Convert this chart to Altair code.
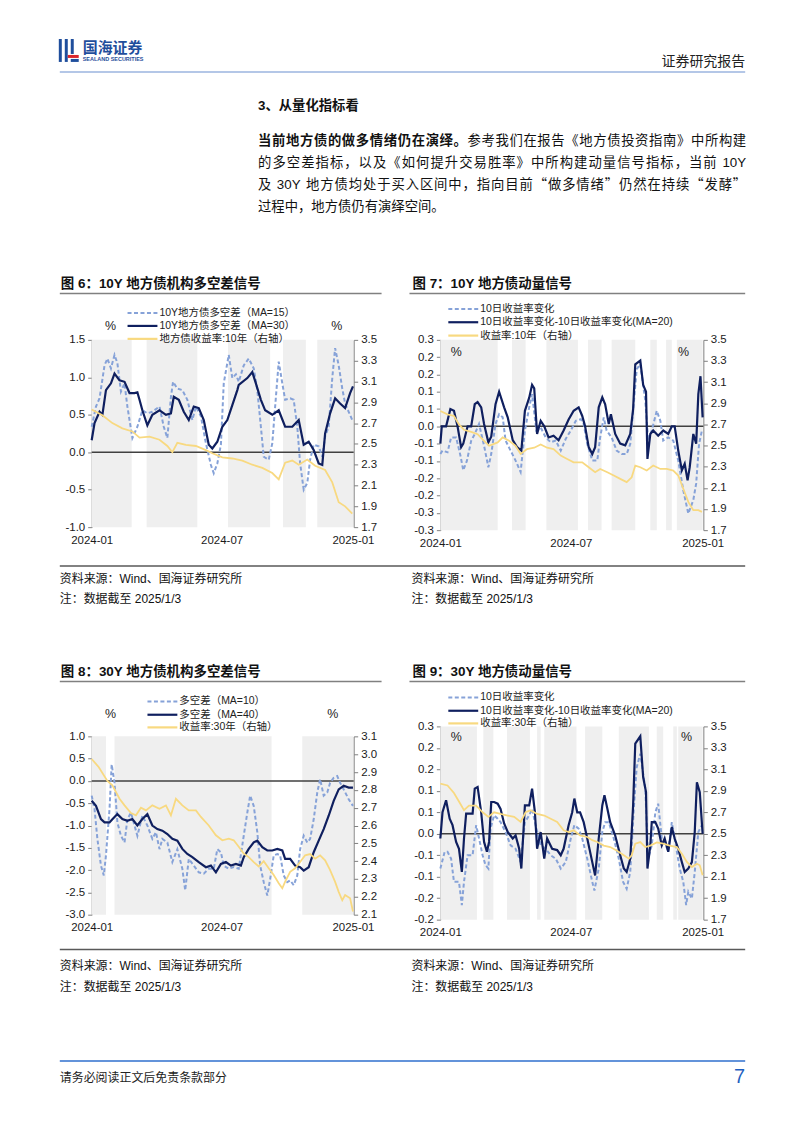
import altair as alt
import pandas as pd

FONT = "Liberation Sans, Noto Sans CJK SC, sans-serif"
CJK_FONT = "Noto Sans CJK SC, sans-serif"
BASE = pd.Timestamp("2024-01-01")

LIGHT = "#86a2d8"
NAVY = "#0f1f5f"
YELLOW = "#f8d980"
BAND = "#efefef"
ZERO = "#404040"
AXIS = "#808080"
LOGO_BLUE = "#1f4e9c"

# ---------------- data (day offset from 2024-01-01, value) ----------------
X_TICKS = ["2024-01-01", "2024-07-01", "2025-01-01"]
RIGHT_TICKS_35 = [1.7, 1.9, 2.1, 2.3, 2.5, 2.7, 2.9, 3.1, 3.3, 3.5]

# Figure 6: 10Y 地方债机构多空差信号
F6_LABELS = ["10Y地方债多空差（MA=15）", "10Y地方债多空差（MA=30）", "地方债收益率:10年（右轴）"]
F6_BANDS = [(0, 56), (77, 148), (191, 250), (268, 300), (316, 366)]
F6_MA15 = [(0, 0.34), (6, 0.61), (11, 0.72), (18, 1.16), (22, 1.25), (27, 1.12), (32, 1.30), (36, 1.19),
           (41, 0.81), (46, 0.92), (50, 0.61), (57, 0.19), (64, 0.34), (71, 0.56), (78, 0.52), (85, 0.54),
           (95, 0.61), (101, 0.34), (106, 0.19), (111, 0.74), (114, 0.94), (120, 0.85), (127, 0.83),
           (134, 0.70), (141, 0.43), (146, 0.61), (153, 0.48), (160, 0.12), (167, -0.17), (171, -0.28),
           (176, -0.15), (181, 0.10), (185, 0.92), (192, 1.30), (197, 0.99), (202, 1.04), (206, 0.94),
           (213, 1.16), (220, 1.25), (227, 1.12), (232, 0.83), (237, 0.34), (241, -0.06), (248, -0.10),
           (253, 0.12), (257, 0.61), (262, 1.21), (267, 0.92), (271, 0.70), (278, 0.72), (283, 0.70),
           (288, 0.34), (292, -0.15), (297, -0.50), (302, -0.41), (306, -0.10), (311, 0.10), (318, 0.08),
           (323, -0.06), (327, 0.21), (332, 0.34), (337, 0.99), (341, 1.39), (346, 1.16), (351, 0.85),
           (355, 0.65), (360, 0.54), (365, 0.43)]
F6_MA30 = [(0, 0.16), (4, 0.39), (11, 0.54), (15, 0.50), (20, 0.83), (27, 0.92), (32, 1.05), (39, 0.96),
           (46, 0.94), (53, 0.79), (60, 0.79), (64, 0.80), (67, 0.70), (71, 0.56), (78, 0.36), (85, 0.50),
           (95, 0.56), (104, 0.50), (111, 0.52), (115, 0.74), (122, 0.70), (129, 0.54), (136, 0.43),
           (143, 0.61), (150, 0.59), (157, 0.43), (164, 0.10), (169, 0.05), (176, 0.14), (183, 0.34),
           (190, 0.43), (197, 0.63), (204, 0.83), (206, 0.90), (218, 0.99), (225, 1.07), (230, 0.92),
           (237, 0.70), (243, 0.56), (253, 0.50), (262, 0.56), (271, 0.34), (281, 0.34), (290, 0.43),
           (297, 0.10), (304, 0.14), (311, 0.03), (318, -0.15), (323, -0.17), (327, 0.25), (334, 0.52),
           (341, 0.72), (348, 0.65), (355, 0.59), (362, 0.79), (366, 0.88)]
F6_YIELD = [(0, 2.83), (15, 2.775), (29, 2.70), (43, 2.65), (57, 2.62), (67, 2.56), (81, 2.57), (95, 2.54),
            (106, 2.48), (113, 2.42), (120, 2.51), (132, 2.49), (146, 2.48), (160, 2.44), (169, 2.41),
            (183, 2.37), (197, 2.36), (211, 2.34), (225, 2.30), (239, 2.27), (253, 2.22), (262, 2.16),
            (271, 2.32), (281, 2.34), (290, 2.30), (302, 2.35), (313, 2.29), (327, 2.25), (337, 2.13),
            (346, 1.94), (355, 1.90), (365, 1.83)]
F6_LEFT_TICKS = [-1.0, -0.5, 0.0, 0.5, 1.0, 1.5]

# Figure 7: 10Y 地方债动量信号
F7_LABELS = ["10日收益率变化", "10日收益率变化-10日收益率变化(MA=20)", "收益率:10年（右轴）"]
F7_BANDS = [(0, 80), (100, 119), (148, 192), (206, 225), (239, 272), (293, 302), (315, 323), (330, 366)]
F7_CHG = [(0, -0.08), (3, -0.07), (10, -0.075), (15, -0.032), (22, -0.032), (28, -0.084), (32, -0.127),
          (37, -0.10), (43, -0.042), (48, -0.022), (54, 0.007), (61, -0.056), (67, -0.118), (71, -0.08),
          (77, 0.007), (82, 0.035), (87, 0.026), (91, -0.041), (98, -0.07), (105, -0.099), (112, -0.132),
          (118, -0.012), (124, 0.055), (128, 0.093), (134, -0.012), (140, -0.003), (147, -0.032),
          (154, -0.046), (161, -0.041), (168, -0.07), (175, -0.036), (182, -0.012), (189, 0.016),
          (196, 0.021), (200, 0.007), (205, -0.051), (212, -0.099), (219, -0.099), (223, -0.032),
          (228, 0.026), (232, -0.012), (239, -0.032), (246, -0.07), (253, -0.08), (260, -0.08),
          (265, -0.051), (270, 0.069), (274, 0.165), (279, 0.18), (286, 0.074), (290, -0.041),
          (295, -0.012), (302, 0.045), (307, 0.016), (311, -0.041), (318, -0.032), (325, -0.041),
          (332, -0.099), (339, -0.185), (346, -0.252), (353, -0.213), (357, -0.165), (361, -0.051),
          (365, -0.012)]
F7_DIFF = [(0, -0.05), (2, 0.0), (8, 0.0), (14, 0.05), (19, 0.045), (24, 0.0), (29, -0.06), (32, -0.05),
           (38, 0.0), (43, 0.0), (48, 0.064), (52, 0.07), (57, 0.055), (61, 0.007), (67, -0.046),
           (71, -0.03), (77, 0.064), (82, 0.10), (89, 0.055), (94, 0.026), (101, -0.04), (107, -0.06),
           (113, -0.07), (118, 0.045), (124, 0.083), (128, 0.12), (131, 0.11), (135, -0.022), (140, 0.016),
           (145, 0.0), (151, -0.032), (158, -0.027), (165, -0.04), (172, -0.012), (179, 0.02), (186, 0.045),
           (193, 0.055), (198, 0.03), (202, 0.0), (207, -0.06), (212, -0.08), (216, -0.06), (221, 0.055),
           (226, 0.084), (230, 0.064), (235, 0.007), (238, 0.035), (244, -0.022), (251, -0.05),
           (258, -0.055), (265, -0.022), (269, 0.05), (272, 0.179), (279, 0.19), (283, 0.12), (287, 0.10),
           (289, -0.094), (293, -0.022), (297, -0.012), (304, -0.027), (311, -0.012), (318, -0.022),
           (323, 0.0), (327, 0.0), (332, -0.07), (337, -0.127), (341, -0.108), (345, -0.156),
           (348, -0.118), (353, -0.022), (357, -0.05), (360, 0.093), (363, 0.145), (366, 0.026)]
F7_YIELD = [(0, 2.827), (10, 2.796), (19, 2.78), (26, 2.70), (33, 2.649), (43, 2.63), (52, 2.608),
            (61, 2.545), (68, 2.498), (80, 2.53), (87, 2.577), (96, 2.545), (105, 2.498), (112, 2.42),
            (121, 2.467), (131, 2.48), (140, 2.51), (149, 2.48), (158, 2.467), (168, 2.405), (177, 2.373),
            (186, 2.342), (198, 2.342), (207, 2.295), (216, 2.248), (223, 2.279), (233, 2.248),
            (242, 2.217), (251, 2.185), (260, 2.154), (267, 2.20), (272, 2.311), (279, 2.295),
            (288, 2.264), (297, 2.311), (307, 2.279), (316, 2.279), (325, 2.264), (332, 2.217),
            (339, 2.092), (346, 1.967), (353, 1.889), (360, 1.889), (365, 1.873)]
F7_LEFT_TICKS = [-0.30, -0.25, -0.20, -0.15, -0.10, -0.05, 0.0, 0.05, 0.10, 0.15, 0.20, 0.25]

# Figure 8: 30Y 地方债机构多空差信号
F8_LABELS = ["多空差（MA=10）", "多空差（MA=40）", "收益率:30年（右轴）"]
F8_BANDS = [(0, 20), (32, 252), (295, 366)]
F8_MA10 = [(0, -0.33), (4, -0.63), (8, -1.30), (13, -1.90), (17, -2.12), (20, -1.67), (25, -0.63), (28, 0.37),
           (32, -0.04), (36, -0.93), (41, -1.23), (46, -1.38), (50, -0.86), (55, -0.71), (60, -1.0),
           (64, -1.23), (71, -0.78), (78, -1.0), (85, -1.30), (90, -1.15), (95, -1.53), (99, -1.30),
           (106, -1.38), (113, -1.82), (120, -1.53), (127, -1.97), (131, -2.455), (136, -1.75),
           (143, -1.90), (150, -2.05), (157, -2.08), (164, -1.97), (171, -1.97), (176, -1.53),
           (181, -1.60), (185, -1.90), (192, -1.97), (199, -1.93), (206, -1.97), (213, -1.23),
           (218, -0.71), (222, -0.33), (227, -0.56), (232, -1.15), (236, -1.90), (241, -2.27),
           (246, -2.57), (250, -2.20), (255, -1.67), (260, -1.64), (264, -1.67), (269, -2.12),
           (274, -2.27), (278, -2.23), (283, -2.34), (288, -2.12), (292, -1.53), (297, -1.23),
           (302, -1.38), (306, -1.30), (311, -0.86), (316, -0.26), (320, 0.04), (325, -0.33),
           (330, -0.26), (334, -0.04), (339, 0.07), (344, 0.11), (348, -0.04), (353, -0.19),
           (360, -0.41), (366, -0.56)]
F8_MA40 = [(0, -0.446), (6, -0.56), (13, -0.855), (18, -0.93), (25, -0.93), (29, -0.86), (36, -0.744),
           (43, -0.855), (50, -0.893), (57, -0.855), (64, -1.0), (71, -0.855), (78, -0.744), (85, -1.0),
           (92, -1.08), (99, -1.116), (106, -1.19), (113, -1.30), (120, -1.34), (127, -1.525),
           (134, -1.637), (141, -1.71), (150, -1.823), (160, -1.935), (167, -1.90), (174, -2.05),
           (181, -1.86), (188, -1.82), (195, -1.90), (202, -1.86), (209, -1.90), (213, -1.71),
           (220, -1.525), (227, -1.376), (232, -1.34), (239, -1.488), (246, -1.56), (253, -1.56),
           (260, -1.525), (267, -1.56), (271, -1.75), (278, -1.75), (285, -1.90), (292, -1.935),
           (297, -2.01), (304, -1.935), (311, -1.60), (318, -1.34), (325, -1.08), (332, -0.781),
           (339, -0.446), (346, -0.19), (353, -0.11), (360, -0.15), (366, -0.15)]
F8_YIELD = [(0, 2.973), (10, 2.927), (22, 2.85), (29, 2.825), (39, 2.75), (46, 2.713), (55, 2.67),
            (62, 2.657), (69, 2.70), (76, 2.685), (85, 2.713), (95, 2.694), (104, 2.713), (111, 2.657),
            (118, 2.75), (127, 2.713), (136, 2.685), (146, 2.685), (153, 2.648), (164, 2.60),
            (174, 2.545), (183, 2.517), (192, 2.526), (199, 2.517), (206, 2.481), (213, 2.443),
            (220, 2.423), (227, 2.395), (234, 2.37), (241, 2.40), (248, 2.36), (255, 2.322),
            (262, 2.276), (267, 2.248), (271, 2.285), (278, 2.34), (285, 2.36), (292, 2.395),
            (299, 2.433), (306, 2.44), (313, 2.414), (320, 2.433), (327, 2.405), (334, 2.35),
            (341, 2.284), (346, 2.228), (351, 2.181), (355, 2.21), (362, 2.192), (366, 2.118)]
F8_LEFT_TICKS = [-3.0, -2.5, -2.0, -1.5, -1.0, -0.5, 0.0, 0.5, 1.0]
F8_RIGHT_TICKS = [2.1, 2.2, 2.3, 2.4, 2.5, 2.6, 2.7, 2.8, 2.9, 3.0, 3.1]

# Figure 9: 30Y 地方债动量信号
F9_LABELS = ["10日收益率变化", "10日收益率变化-10日收益率变化(MA=20)", "收益率:30年（右轴）"]
F9_BANDS = [(0, 51), (60, 74), (93, 125), (135, 140), (145, 190), (202, 226), (249, 291), (302, 311),
            (325, 330), (332, 366)]
F9_CHG = [(0, -0.081), (6, -0.042), (10, -0.042), (15, -0.058), (19, -0.112), (26, -0.112), (30, -0.166),
          (33, -0.112), (38, -0.05), (45, -0.05), (50, 0.02), (54, -0.011), (59, -0.05), (63, -0.073),
          (67, -0.081), (70, 0.012), (75, 0.043), (80, 0.035), (84, 0.027), (91, 0.004), (98, -0.027),
          (105, -0.035), (112, -0.066), (118, 0.027), (124, 0.043), (128, 0.058), (133, 0.019),
          (140, -0.027), (147, -0.035), (154, -0.05), (161, -0.058), (168, -0.081), (175, -0.066),
          (182, -0.011), (187, 0.02), (193, 0.012), (198, -0.011), (205, -0.058), (212, -0.112),
          (215, -0.132), (221, -0.081), (226, 0.004), (230, 0.027), (235, 0.027), (242, -0.011),
          (249, -0.058), (255, -0.112), (260, -0.128), (265, -0.089), (270, 0.06), (274, 0.155),
          (279, 0.186), (286, 0.105), (290, -0.058), (295, -0.027), (300, 0.05), (304, 0.07),
          (309, -0.011), (313, -0.019), (318, -0.042), (323, 0.027), (327, -0.011), (334, -0.081),
          (339, -0.112), (343, -0.166), (346, -0.135), (351, -0.151), (355, -0.089), (360, 0.004),
          (365, 0.02)]
F9_DIFF = [(0, -0.011), (3, 0.05), (8, 0.078), (13, 0.035), (17, 0.02), (22, -0.019), (26, -0.035),
           (30, -0.089), (33, -0.011), (36, 0.047), (40, 0.047), (45, 0.047), (48, 0.105), (52, 0.109),
           (57, 0.05), (61, -0.019), (65, -0.042), (68, -0.019), (71, 0.074), (75, 0.074), (80, 0.07),
           (84, 0.058), (89, 0.024), (94, 0.004), (101, -0.011), (105, -0.004), (110, -0.035),
           (113, -0.081), (118, 0.066), (124, 0.066), (128, 0.105), (132, 0.05), (135, -0.035),
           (140, 0.004), (145, -0.058), (149, -0.011), (156, -0.035), (163, -0.038), (168, -0.05),
           (172, -0.035), (179, 0.02), (184, 0.05), (187, 0.082), (191, 0.05), (195, 0.05), (200, 0.027),
           (205, -0.011), (212, -0.066), (216, -0.097), (221, -0.011), (226, 0.066), (229, 0.09),
           (233, 0.059), (237, 0.027), (244, -0.004), (251, -0.05), (256, -0.081), (260, -0.089),
           (265, -0.058), (269, 0.066), (272, 0.21), (279, 0.227), (283, 0.132), (287, 0.097),
           (289, -0.081), (293, -0.027), (295, 0.027), (300, 0.027), (304, 0.012), (309, -0.027),
           (313, -0.011), (318, -0.042), (323, 0.016), (327, -0.011), (332, -0.035), (337, -0.066),
           (341, -0.089), (346, -0.081), (351, -0.066), (355, 0.004), (358, 0.12), (362, 0.097),
           (366, 0.0)]
F9_YIELD = [(0, 2.966), (10, 2.95), (19, 2.88), (26, 2.80), (33, 2.72), (40, 2.763), (50, 2.763), (59, 2.70),
            (67, 2.657), (75, 2.70), (84, 2.685), (94, 2.67), (103, 2.657), (112, 2.61), (119, 2.70),
            (126, 2.72), (135, 2.685), (145, 2.67), (154, 2.64), (163, 2.61), (172, 2.532), (179, 2.516),
            (186, 2.532), (195, 2.485), (205, 2.47), (212, 2.44), (219, 2.423), (228, 2.39), (237, 2.376),
            (246, 2.345), (256, 2.30), (263, 2.268), (267, 2.30), (272, 2.408), (279, 2.423),
            (286, 2.376), (293, 2.39), (302, 2.42), (311, 2.408), (320, 2.39), (330, 2.376), (337, 2.314),
            (344, 2.237), (351, 2.19), (358, 2.22), (362, 2.206), (366, 2.114)]
F9_LEFT_TICKS = [-0.20, -0.15, -0.10, -0.05, 0.0, 0.05, 0.10, 0.15, 0.20, 0.25]

# ---------------- helpers ----------------
ONE = pd.DataFrame({"k": [0]})
QUOTES = "\u201c\u201d"


def to_dates(days):
    return [(BASE + pd.Timedelta(days=int(d))).strftime("%Y-%m-%d") for d in days]


def dt(s):
    y, m, d = (int(p) for p in s.split("-"))
    return alt.DateTime(year=y, month=m, date=d, utc=True)


XVALS = [dt(s) for s in X_TICKS]
D0 = dt("2024-01-01")
D1 = dt("2025-01-02")


def txt(s, x, y, size=12.0, weight="normal", color="#111111", align="left"):
    return alt.Chart(ONE).mark_text(text=s, fontSize=size, fontWeight=weight, color=color, align=align,
                                    baseline="middle", font=FONT).encode(x=alt.value(x), y=alt.value(y))


def tokens(s):
    out, buf = [], ""
    for ch in s:
        if ord(ch) < 128 and ch != " ":
            buf += ch
        else:
            if buf:
                out.append(buf)
                buf = ""
            out.append(ch)
    if buf:
        out.append(buf)
    return out


def tok_w(t):
    if t == " ":
        return 0.278
    if len(t) == 1 and ord(t) >= 128:
        return 1.0
    return sum(0.556 if c.isdigit() else (0.667 if c.isupper() else 0.5) for c in t)


def justified(s, x0, x1, y, size, bold_n=0):
    """Set one line of running text flush to both margins (token by token)."""
    toks = tokens(s)
    ws = [tok_w(t) * size for t in toks]
    extra = (x1 - x0 - sum(ws)) / max(len(toks) - 1, 1)
    xs, cur = [], x0
    for w in ws:
        xs.append(cur + w / 2)
        cur += w + extra
    df = pd.DataFrame({"t": toks, "x": xs,
                       "b": [i < bold_n for i in range(len(toks))],
                       "q": [t in QUOTES for t in toks]})
    df = df[df["t"] != " "]
    parts = []
    for bflag, weight in ((True, "bold"), (False, "normal")):
        for qflag, font in ((False, FONT), (True, CJK_FONT)):
            sub = df[(df["b"] == bflag) & (df["q"] == qflag)]
            if len(sub):
                parts.append(alt.Chart(sub[["t", "x"]]).mark_text(
                    fontSize=size, fontWeight=weight, color="#111111", align="center", baseline="middle",
                    font=font).encode(x=alt.X("x:Q", scale=None), y=alt.value(y), text="t:N"))
    return parts


def hrule(x0, x1, y, color, width, dash=None):
    kw = dict(color=color, strokeWidth=width)
    if dash:
        kw["strokeDash"] = dash
    return alt.Chart(ONE).mark_rule(**kw).encode(x=alt.value(x0), x2=alt.value(x1), y=alt.value(y))


def box(x0, x1, y0, y1, color):
    return alt.Chart(ONE).mark_rect(color=color).encode(x=alt.value(x0), x2=alt.value(x1),
                                                       y=alt.value(y0), y2=alt.value(y1))


def spacer(w, h=1):
    return alt.Chart(ONE).mark_point(opacity=0).encode(x=alt.value(0), y=alt.value(0)).properties(
        width=w, height=h)


LEXPR_1 = "replace(format(datum.value, '.1f'), '\u2212', '-')"
LEXPR_R = "replace(format(datum.value + (datum.value >= 0 ? 1e-6 : -1e-6), '.1f'), '\u2212', '-')"


def figure(bands, dashed, solid, yld, labels, w, h, top, ldom, lticks, lexpr, rdom, rticks,
           leg_x, leg_ys, pct_pos):
    xs = alt.Scale(type="utc", domain=[D0, D1])
    xax = alt.Axis(values=XVALS, labelExpr="utcFormat(datum.value, '%Y-%m')", labelFlush=False,
                   labelOverlap=False, domain=False, ticks=False, labelPadding=7, title=None)
    ls = alt.Scale(domain=ldom, range=[h, top], nice=False, zero=False)
    lax = alt.Axis(orient="left", values=lticks, labelExpr=lexpr, title=None)
    rs = alt.Scale(domain=rdom, range=[h, top], nice=False, zero=False)
    rax = alt.Axis(orient="right", values=rticks, format=".1f", title=None)

    bdf = pd.DataFrame({"start": to_dates([b[0] for b in bands]), "end": to_dates([b[1] for b in bands])})
    band = alt.Chart(bdf).mark_rect(color=BAND).encode(
        x=alt.X("start:T", scale=xs, axis=xax), x2="end:T", y=alt.value(top), y2=alt.value(h))
    zero = alt.Chart(pd.DataFrame({"v": [0.0]})).mark_rule(color=ZERO, strokeWidth=1.5).encode(
        y=alt.Y("v:Q", scale=ls, axis=lax))

    def line(pairs, color, width, dash, scale, axis):
        df = pd.DataFrame({"date": to_dates([p[0] for p in pairs]), "v": [p[1] for p in pairs]})
        kw = dict(color=color, strokeWidth=width)
        if dash:
            kw["strokeDash"] = dash
        return alt.Chart(df).mark_line(**kw).encode(
            x=alt.X("date:T", scale=xs, axis=xax), y=alt.Y("v:Q", scale=scale, axis=axis))

    left = alt.layer(band, zero, line(dashed, LIGHT, 2, [4, 2.5], ls, lax), line(solid, NAVY, 2.2, None, ls, lax))
    right = line(yld, YELLOW, 1.8, None, rs, rax)

    deco = []
    styles = [(LIGHT, [4, 2.5]), (NAVY, None), (YELLOW, None)]
    for lab, yy, (c, dsh) in zip(labels, leg_ys, styles):
        deco.append(hrule(leg_x, leg_x + 30, yy, c, 2.2, dsh))
        deco.append(txt(lab, leg_x + 32, yy, 10.5, color="#222222"))
    for (px, py) in pct_pos:
        deco.append(txt("%", px, py, 12.5, align="center", color="#222222"))
    return alt.layer(left, right, *deco).resolve_scale(y="independent").properties(width=w, height=h)


# ---------------- figures (cell origin = top-left of the grid cell) ----------------
fig6 = figure(F6_BANDS, F6_MA15, F6_MA30, F6_YIELD, F6_LABELS, 263, 188, 0, [-1.0, 1.5], F6_LEFT_TICKS,
              LEXPR_1, [1.7, 3.5], RIGHT_TICKS_35, 36, [-27, -14, -1], [(19, -14), (246, -14)])
fig7 = figure(F7_BANDS, F7_CHG, F7_DIFF, F7_YIELD, F7_LABELS, 264, 191, 0, [-0.30, 0.25], F7_LEFT_TICKS,
              LEXPR_R, [1.7, 3.5], RIGHT_TICKS_35, 8, [-31, -17.7, -4.3], [(16, 12), (244, 12)])
fig8 = figure(F8_BANDS, F8_MA10, F8_MA40, F8_YIELD, F8_LABELS, 263, 189, 10, [-3.0, 1.0], F8_LEFT_TICKS,
              LEXPR_1, [2.1, 3.1], F8_RIGHT_TICKS, 56, [-25, -11.7, 1], [(19, -12), (242, -12)])
fig9 = figure(F9_BANDS, F9_CHG, F9_DIFF, F9_YIELD, F9_LABELS, 264, 194, 0, [-0.20, 0.25], F9_LEFT_TICKS,
              LEXPR_R, [1.7, 3.5], RIGHT_TICKS_35, 8, [-29, -15.7, -3], [(16, 10.3), (247, 10.3)])

# ---------------- page text blocks ----------------
P = 13.4
block0 = alt.layer(
    box(48, 51, 26, 49, LOGO_BLUE), box(54, 57, 26, 49, LOGO_BLUE), box(60, 63, 26, 41, LOGO_BLUE),
    box(57, 68, 42, 45, "#d9262c"), box(60, 68, 46, 49, LOGO_BLUE),
    txt("国海证券", 72, 35, 15, "bold", LOGO_BLUE),
    txt("SEALAND SECURITIES", 72, 46, 5.5, "bold", LOGO_BLUE),
    txt("证券研究报告", 737, 49, 14, color="#222222", align="right"),
    hrule(49, 737, 59, "#b4c7e7", 2),
    txt("3、从量化指标看", 248, 93.7, P, "bold"),
    *justified("当前地方债的做多情绪仍在演绎。参考我们在报告《地方债投资指南》中所构建", 248, 738, 128, P, bold_n=15),
    *justified("的多空差指标，以及《如何提升交易胜率》中所构建动量信号指标，当前 10Y", 248, 738, 150.5, P),
    *justified("及 30Y 地方债均处于买入区间中，指向目前“做多情绪”仍然在持续“发酵”", 248, 738, 173, P),
    txt("过程中，地方债仍有演绎空间。", 248, 195, P),
    txt("图 6：10Y 地方债机构多空差信号", 50, 272, 13.5, "bold"),
    txt("图 7：10Y 地方债动量信号", 403, 272, 13.5, "bold"),
    hrule(49, 372, 281.5, "#808080", 1.5),
    hrule(400, 737, 281.5, "#808080", 1.5),
).properties(width=81, height=328)

block2 = alt.layer(
    hrule(49, 737, 36, "#595959", 1.5),
    txt("资料来源：Wind、国海证券研究所", 49, 49, 12),
    txt("资料来源：Wind、国海证券研究所", 402, 49, 12),
    txt("注：数据截至 2025/1/3", 49, 69, 12),
    txt("注：数据截至 2025/1/3", 402, 69, 12),
    txt("图 8：30Y 地方债机构多空差信号", 50, 142, 13.5, "bold"),
    txt("图 9：30Y 地方债动量信号", 403, 142, 13.5, "bold"),
    hrule(49, 372, 152, "#808080", 1.5),
    hrule(400, 737, 152, "#808080", 1.5),
).properties(width=81, height=197)

block4 = alt.layer(
    hrule(49, 737, 30, "#595959", 1.5),
    txt("资料来源：Wind、国海证券研究所", 49, 47, 12),
    txt("资料来源：Wind、国海证券研究所", 402, 47, 12),
    txt("注：数据截至 2025/1/3", 49, 68, 12),
    txt("注：数据截至 2025/1/3", 402, 68, 12),
    hrule(49, 737, 142, "#2f6fce", 1.5),
    txt("请务必阅读正文后免责条款部分", 49, 159, 12, color="#222222"),
    txt("7", 737, 158, 20, color="#1f5fc0", align="right"),
).properties(width=81, height=207)

# 5 x 5 grid: columns = [81 | 263 | 87 | 264 | 91], rows = [328 | 191 | 197 | 194 | 207]
cells = [
    block0, spacer(1), spacer(87), spacer(1), spacer(91),
    spacer(81), fig6, spacer(87), fig7, spacer(91),
    block2, spacer(1), spacer(87), spacer(1), spacer(91),
    spacer(81), fig8, spacer(87), fig9, spacer(91),
    block4, spacer(1), spacer(87), spacer(1), spacer(91),
]

chart = alt.concat(*cells, columns=5, spacing=0, bounds="flush").resolve_scale(
    x="independent", y="independent"
).properties(padding=0, background="white").configure_view(stroke=None).configure_axis(
    labelFont=FONT, labelFontSize=11.5, labelColor="#1a1a1a", domainColor=AXIS, tickColor=AXIS,
    domainWidth=1, tickWidth=1, tickSize=4, labelPadding=3, grid=False)

chart.save("out.html", embed_options={"renderer": "svg", "actions": False})
